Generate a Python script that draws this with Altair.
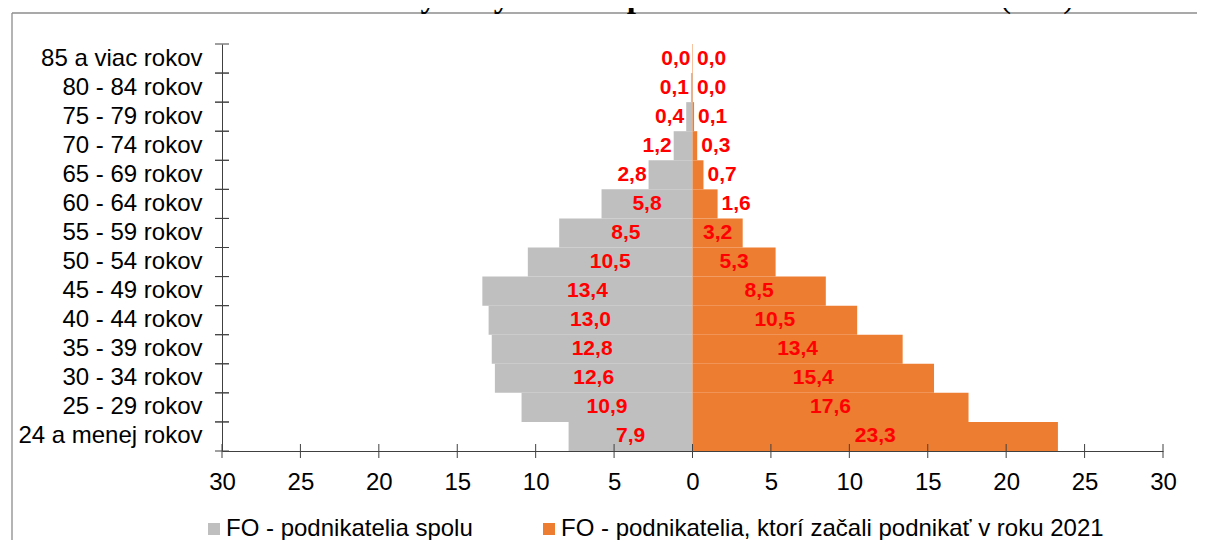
import altair as alt
import pandas as pd

# ---- data ----
ages = ["85 a viac rokov", "80 - 84 rokov", "75 - 79 rokov", "70 - 74 rokov",
        "65 - 69 rokov", "60 - 64 rokov", "55 - 59 rokov", "50 - 54 rokov",
        "45 - 49 rokov", "40 - 44 rokov", "35 - 39 rokov", "30 - 34 rokov",
        "25 - 29 rokov", "24 a menej rokov"]
spolu = [0.0, 0.1, 0.4, 1.2, 2.8, 5.8, 8.5, 10.5, 13.4, 13.0, 12.8, 12.6, 10.9, 7.9]
zacali = [0.03, 0.03, 0.1, 0.3, 0.7, 1.6, 3.2, 5.3, 8.5, 10.5, 13.4, 15.4, 17.6, 23.3]
series = ["FO - podnikatelia spolu",
          "FO - podnikatelia, ktorí začali podnikať v roku 2021"]
colors = ["#BFBFBF", "#ED7D31"]
x_ticks = [-30, -25, -20, -15, -10, -5, 0, 5, 10, 15, 20, 25, 30]
title_parts = ["Graf č. 24:",
               "Veková štruktúra fyzických osôb-podnikateľov v roku 2023",
               "(v %)"]

# ---- table ----
rows = []
for s_idx, vals in enumerate([spolu, zacali]):
    sign = -1 if s_idx == 0 else 1
    for age, v in zip(ages, vals):
        signed = sign * v
        if v >= 3:
            kind, lx = "center", signed / 2
        else:
            kind, lx = ("right" if s_idx == 0 else "left"), signed
        rows.append({"age": age, "series": series[s_idx], "value": v,
                     "signed": signed, "labelx": lx, "kind": kind,
                     "label": f"{v:.1f}".replace(".", ",")})
df = pd.DataFrame(rows)

W, H = 941, 407
FONT = "Liberation Sans"
AX = "#404040"

xs = alt.Scale(domain=[-30, 30], nice=False, zero=False)
ys = alt.Scale(domain=ages, paddingInner=0, paddingOuter=0)
x_axis = alt.Axis(values=x_ticks, labelExpr="abs(datum.value)", ticks=False,
                  grid=False, domainColor=AX, domainWidth=1, labelFont=FONT,
                  labelFontSize=24, labelColor="black", labelPadding=19,
                  labelFlush=False, labelOverlap=False, title=None)
y_axis = alt.Axis(ticks=False, grid=False, domainColor=AX, domainWidth=1,
                  labelFont=FONT, labelFontSize=24, labelColor="black",
                  labelPadding=20, labelLimit=400, title=None)

X = lambda f: alt.X(f, scale=xs, axis=x_axis)
Y = lambda **kw: alt.Y("age:N", scale=ys, axis=y_axis, **kw)

base = alt.Chart(df)

bars = base.mark_bar(strokeWidth=0).encode(
    x=alt.X("signed:Q", scale=xs, axis=x_axis, stack=None),
    y=Y(),
    color=alt.Color("series:N", scale=alt.Scale(domain=series, range=colors),
                    legend=alt.Legend(orient="none", legendX=-20, legendY=473,
                                      direction="horizontal", title=None,
                                      symbolType="square", symbolSize=144,
                                      symbolStrokeWidth=0, labelFont=FONT,
                                      labelFontSize=24, labelColor="black",
                                      labelOffset=0, columnPadding=64,
                                      labelLimit=900, padding=0)),
)

lab_style = dict(baseline="middle", font=FONT, fontSize=21, fontWeight="bold",
                 color="#FF0000")
lab_c = base.transform_filter("datum.kind == 'center'").mark_text(
    align="center", **lab_style).encode(x=X("labelx:Q"), y=Y(), text="label:N")
lab_l = base.transform_filter("datum.kind == 'left'").mark_text(
    align="left", dx=4, **lab_style).encode(x=X("labelx:Q"), y=Y(), text="label:N")
lab_r = base.transform_filter("datum.kind == 'right'").mark_text(
    align="right", dx=-2, **lab_style).encode(x=X("labelx:Q"), y=Y(), text="label:N")

# crossing tick marks
xt = alt.Chart(pd.DataFrame({"tick": x_ticks})).mark_rule(
    color=AX, strokeWidth=1).encode(x=X("tick:Q"), y=alt.value(H - 7),
                                    y2=alt.value(H + 7))
age_df = pd.DataFrame({"age": ages})
yt0 = alt.Chart(age_df).mark_rule(color=AX, strokeWidth=1).encode(
    y=Y(bandPosition=0), x=alt.value(-7), x2=alt.value(7))
yt1 = alt.Chart(age_df).mark_rule(color=AX, strokeWidth=1).encode(
    y=Y(bandPosition=1), x=alt.value(-7), x2=alt.value(7))

# chart-area frame (left and top edges visible)
one = pd.DataFrame({"a": [0]})
frame_l = alt.Chart(one).mark_rule(color="#8c8c8c", strokeWidth=1.3).encode(
    x=alt.value(-210), y=alt.value(-31), y2=alt.value(H + 120))
frame_t = alt.Chart(one).mark_rule(color="#8c8c8c", strokeWidth=1.3).encode(
    x=alt.value(-210), x2=alt.value(W + 60), y=alt.value(-31))

# title (cut off at the top in the reference)
tstyle = dict(align="left", baseline="alphabetic", font="Liberation Serif",
              fontSize=33, color="black")
t1 = alt.Chart(pd.DataFrame({"t": [title_parts[0]]})).mark_text(
    fontWeight="normal", **tstyle).encode(x=alt.value(-218), y=alt.value(-37), text="t:N")
t2 = alt.Chart(pd.DataFrame({"t": [title_parts[1]]})).mark_text(
    fontWeight="bold", **tstyle).encode(x=alt.value(-68), y=alt.value(-37), text="t:N")
t3 = alt.Chart(pd.DataFrame({"t": [title_parts[2]]})).mark_text(
    fontWeight="normal", **tstyle).encode(x=alt.value(778), y=alt.value(-37), text="t:N")

chart = alt.layer(bars, lab_c, lab_l, lab_r, xt, yt0, yt1,
                  frame_l, frame_t, t1, t2, t3).properties(
    width=W, height=H,
    autosize=alt.AutoSizeParams(type="none"),
    padding={"left": 214, "top": 36, "right": 34, "bottom": 89},
).configure_view(stroke=None)

chart.save("out.html", embed_options={"renderer": "svg", "actions": False})
